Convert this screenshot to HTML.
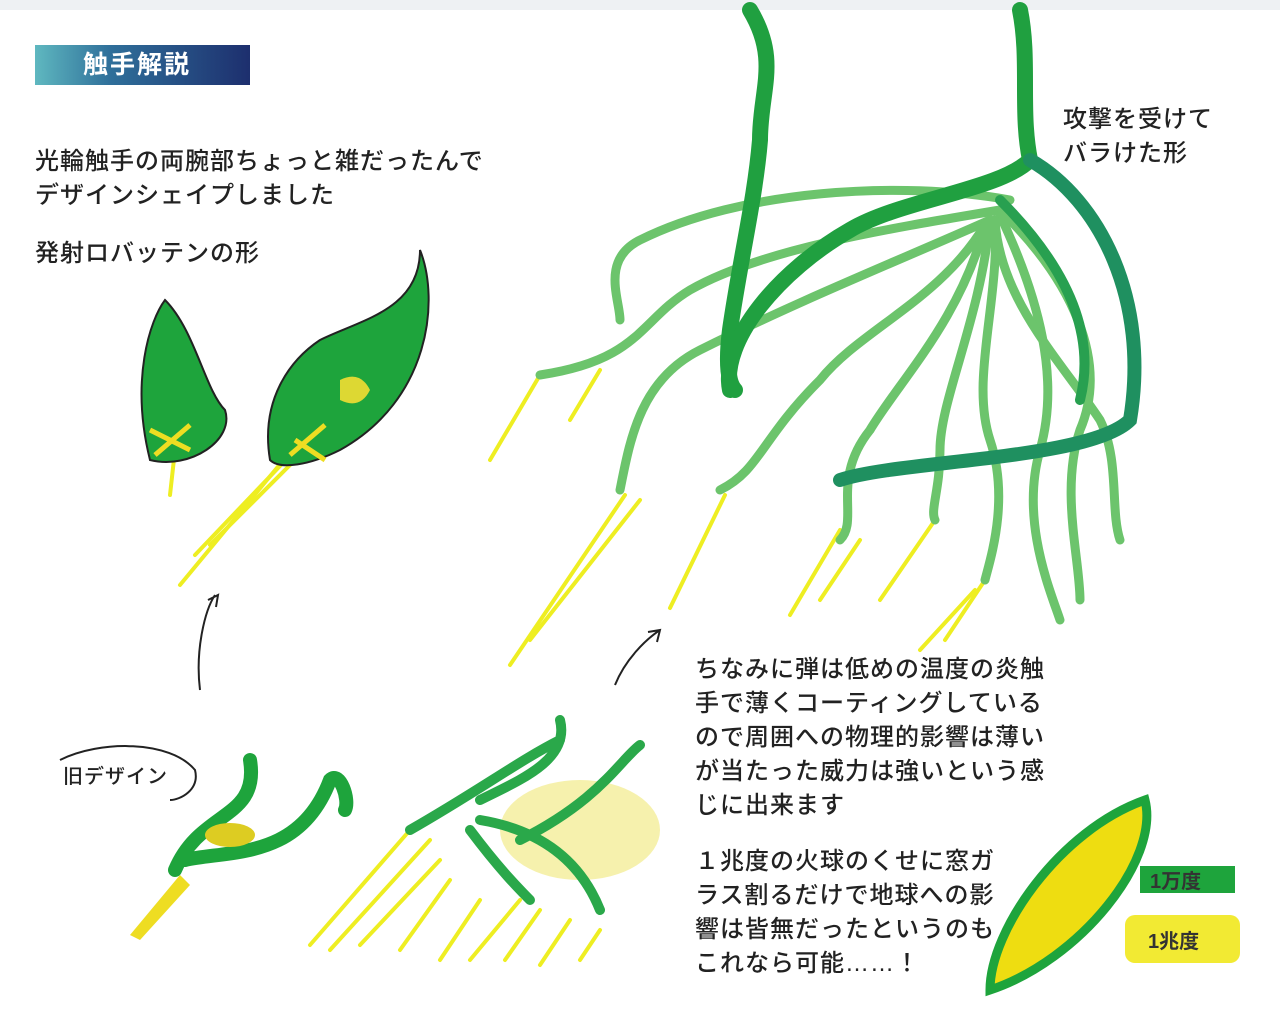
<!DOCTYPE html>
<html><head><meta charset="utf-8">
<style>
html,body{margin:0;padding:0;background:#fff;}
body{width:1280px;height:1026px;position:relative;overflow:hidden;font-family:"Liberation Sans","Noto Sans CJK JP",sans-serif;}
.t{position:absolute;color:#222;font-size:24px;line-height:34px;white-space:nowrap;letter-spacing:1px;font-weight:500;}
.hd{position:absolute;left:35px;top:45px;width:215px;height:40px;background:linear-gradient(90deg,#5fb8c0 0%,#2f6f9a 35%,#1d2f6e 100%);color:#fff;font-weight:bold;font-size:25px;line-height:40px;padding-left:48px;box-sizing:border-box;letter-spacing:2px;}
</style></head><body>
<svg width="1280" height="1026" style="position:absolute;left:0;top:0" xmlns="http://www.w3.org/2000/svg">
<rect x="0" y="0" width="1280" height="10" fill="#eef1f3"/>
<g stroke="#eeee22" stroke-width="4" stroke-linecap="round" fill="none">
<line x1="180" y1="585" x2="300" y2="440"/><line x1="195" y1="555" x2="300" y2="445"/><line x1="210" y1="545" x2="305" y2="450"/>
<line x1="170" y1="495" x2="175" y2="450"/>
<line x1="490" y1="460" x2="540" y2="375"/><line x1="510" y1="665" x2="625" y2="495"/><line x1="530" y1="640" x2="640" y2="500"/>
<line x1="570" y1="420" x2="600" y2="370"/><line x1="670" y1="608" x2="725" y2="495"/><line x1="790" y1="615" x2="840" y2="530"/>
<line x1="820" y1="600" x2="860" y2="540"/><line x1="880" y1="600" x2="935" y2="520"/><line x1="920" y1="650" x2="975" y2="590"/>
<line x1="945" y1="640" x2="985" y2="580"/>
<line x1="310" y1="945" x2="410" y2="830"/><line x1="330" y1="950" x2="430" y2="840"/><line x1="360" y1="945" x2="440" y2="860"/>
<line x1="400" y1="950" x2="450" y2="880"/><line x1="440" y1="960" x2="480" y2="900"/><line x1="470" y1="960" x2="520" y2="900"/>
<line x1="505" y1="960" x2="540" y2="910"/><line x1="540" y1="965" x2="570" y2="920"/><line x1="580" y1="960" x2="600" y2="930"/>
</g>
<polygon points="130,935 180,875 190,885 140,940" fill="#eedd22"/>
<g fill="none" stroke-linecap="round">
<g stroke="#6cc46c" stroke-width="9">
<path d="M1010 200 C900 180 740 190 640 240 C600 260 620 300 620 320"/>
<path d="M1000 210 C880 230 760 250 690 290 C640 320 640 360 540 375"/>
<path d="M990 220 C900 260 800 300 700 350 C640 380 630 440 620 490"/>
<path d="M985 225 C940 300 860 330 820 380 C760 440 760 470 720 490"/>
<path d="M985 225 C960 320 900 380 870 430 C830 480 860 520 840 540"/>
<path d="M990 220 C980 320 940 400 940 450 C940 490 930 510 935 520"/>
<path d="M995 220 C1000 300 970 380 990 440 C1010 500 990 560 985 580"/>
<path d="M1000 215 C1040 300 1060 380 1040 450 C1020 520 1050 590 1060 620"/>
<path d="M1005 215 C1070 280 1110 360 1080 430 C1060 490 1080 560 1080 600"/>
<path d="M995 220 C1000 300 1060 360 1100 420 C1120 460 1110 510 1120 540"/>
</g>
<path d="M750 10 C780 60 760 90 760 140 C755 200 740 260 730 330 C725 370 730 385 735 390" stroke="#20a040" stroke-width="16"/>
<path d="M1020 10 C1030 60 1020 110 1030 160 C1000 190 900 200 850 230 C780 270 720 340 730 390" stroke="#20a040" stroke-width="16"/>
<path d="M1030 160 C1100 200 1150 300 1130 420 C1090 460 900 460 840 480" stroke="#1f9060" stroke-width="14"/>
<path d="M1000 200 C1050 250 1100 320 1080 400" stroke="#28a050" stroke-width="10"/>
</g>
<path d="M150 460 C130 380 150 320 165 300 C195 330 205 390 225 410 C235 440 190 470 150 460Z" fill="#1ea43c" stroke="#222" stroke-width="2"/>
<path d="M270 460 C260 400 290 360 320 340 C360 320 420 310 420 250 C440 300 430 400 340 450 C310 465 280 470 270 460Z" fill="#1ea43c" stroke="#222" stroke-width="2"/>
<path d="M340 380 q20 -10 30 10 q-10 20 -30 10z" fill="#ddd833"/>
<path d="M150 430 l40 20 M155 455 l35 -30 M290 455 l35 -30 M295 440 l30 20" stroke="#eedd22" stroke-width="5"/>
<path d="M200 690 C195 650 205 610 215 595 M208 600 l10 -5 l-2 12" stroke="#222" stroke-width="2" fill="none"/>
<path d="M615 685 C625 660 645 640 660 630 M648 632 l12 -2 l-3 12" stroke="#222" stroke-width="2" fill="none"/>
<path d="M175 870 C200 810 260 820 250 760 M185 860 C230 850 300 860 330 780 C340 770 350 800 345 810" stroke="#1ea43c" stroke-width="14" fill="none" stroke-linecap="round"/>
<ellipse cx="230" cy="835" rx="25" ry="12" fill="#ddcc22"/>
<path d="M60 760 C100 740 170 740 195 770 C200 790 180 800 170 800" stroke="#222" stroke-width="2" fill="none"/>
<ellipse cx="580" cy="830" rx="80" ry="50" fill="#f4ee99" opacity="0.8"/>
<path d="M410 830 C480 790 520 760 560 740 M560 720 C570 760 520 780 480 800 M520 840 C600 800 620 760 640 745 M480 820 C540 830 580 860 600 910 M470 830 C500 870 520 890 530 900" stroke="#2aa84a" stroke-width="10" fill="none" stroke-linecap="round"/>
<path d="M990 990 C990 930 1060 830 1145 800 C1160 860 1080 960 990 990Z" fill="#eedd11" stroke="#1ea43c" stroke-width="9"/>
<rect x="1140" y="866" width="95" height="27" fill="#1ea43c"/>
<rect x="1125" y="915" width="115" height="48" rx="10" fill="#f2ea33"/>
<text x="1150" y="888" font-size="20" font-weight="bold" fill="#333" font-family="Liberation Sans, Noto Sans CJK JP, sans-serif">1万度</text>
<text x="1148" y="948" font-size="20" font-weight="bold" fill="#333" font-family="Liberation Sans, Noto Sans CJK JP, sans-serif">1兆度</text>
</svg>
<div class="hd">触手解説</div>
<div class="t" style="left:35px;top:145px;">光輪触手の両腕部ちょっと雑だったんで<br>デザインシェイプしました</div>
<div class="t" style="left:35px;top:237px;">発射ロバッテンの形</div>
<div class="t" style="left:63px;top:760px;font-size:20px;">旧デザイン</div>
<div class="t" style="left:1063px;top:103px;">攻撃を受けて<br>バラけた形</div>
<div class="t" style="left:695px;top:653px;">ちなみに弾は低めの温度の炎触<br>手で薄くコーティングしている<br>ので周囲への物理的影響は薄い<br>が当たった威力は強いという感<br>じに出来ます</div>
<div class="t" style="left:695px;top:845px;">１兆度の火球のくせに窓ガ<br>ラス割るだけで地球への影<br>響は皆無だったというのも<br>これなら可能……！</div>
</body></html>
